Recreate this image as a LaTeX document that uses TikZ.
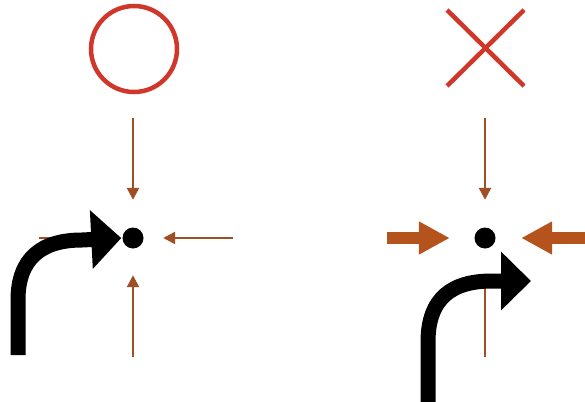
\documentclass[tikz,border=0pt]{standalone}
\usepackage{xcolor}
\usepackage{tikz}
\usetikzlibrary{arrows.meta}

\definecolor{markred}{RGB}{208,54,42}
\definecolor{pushbrown}{RGB}{160,78,36}
\definecolor{bigbrown}{RGB}{180,84,28}

\begin{document}
\begin{tikzpicture}[x=1pt, y=-1pt,
    dotmark/.style={circle, fill=black, inner sep=0pt, minimum size=21pt},
    thinpush/.style={line width=2.4pt, pushbrown, -{Triangle[length=12pt, width=12pt]}},
    thickpush/.style={line width=12pt, bigbrown, -{Triangle[length=31pt, width=31pt]}},
    turnarrow/.style={line width=15pt, black, -{Triangle[length=30pt, width=57pt]}}]
    \clip (0,0) rectangle (585,401);

    % Left case: circle mark, thin pushes from all four sides
    \draw[markred, line width=4.5pt] (134,49) circle (43pt);
    \node[dotmark] (dotL) at (133,238) {};
    \coordinate (topL) at (133,118);
    \coordinate (rightL) at (233,238);
    \coordinate (bottomL) at (133,357);
    \coordinate (leftL) at (39,238);
    \draw[thinpush, shorten >=27.5pt] (topL) -- (dotL);
    \draw[thinpush, shorten >=19.5pt] (rightL) -- (dotL);
    \draw[thinpush, shorten >=26.5pt] (bottomL) -- (dotL);
    \draw[thinpush, shorten >=19pt] (leftL) -- (dotL);

    % Left case: black turning arrow ending at the dot
    \coordinate (turnL) at (18,355);
    \draw[turnarrow, shorten >=1pt] (turnL) -- (18,300)
        .. controls (18,258) and (42,240) .. (82,240) -- (dotL.west);

    % Right case: cross mark, thick pushes from the sides
    \draw[markred, line width=4.5pt] (447,10) -- (524,86);
    \draw[markred, line width=4.5pt] (524,10) -- (447,86);
    \node[dotmark] (dotR) at (485,238) {};
    \coordinate (topR) at (485,118);
    \coordinate (bottomR) at (485,357);
    \coordinate (leftR) at (387,238);
    \coordinate (rightR) at (590,238);
    \draw[thinpush, shorten >=27.5pt] (topR) -- (dotR);
    \draw[thinpush, shorten >=26.5pt] (bottomR) -- (dotR);
    \draw[thickpush, shorten >=24.5pt] (leftR) -- (dotR);
    \draw[thickpush, shorten >=25.5pt] (rightR) -- (dotR);

    % Right case: black turning arrow passing below the dot
    \coordinate (turnR) at (428,410);
    \coordinate (tipR) at (531,281);
    \draw[turnarrow] (turnR) -- (428,342)
        .. controls (428,298) and (452,281) .. (492,281) -- (tipR);
\end{tikzpicture}
\end{document}
